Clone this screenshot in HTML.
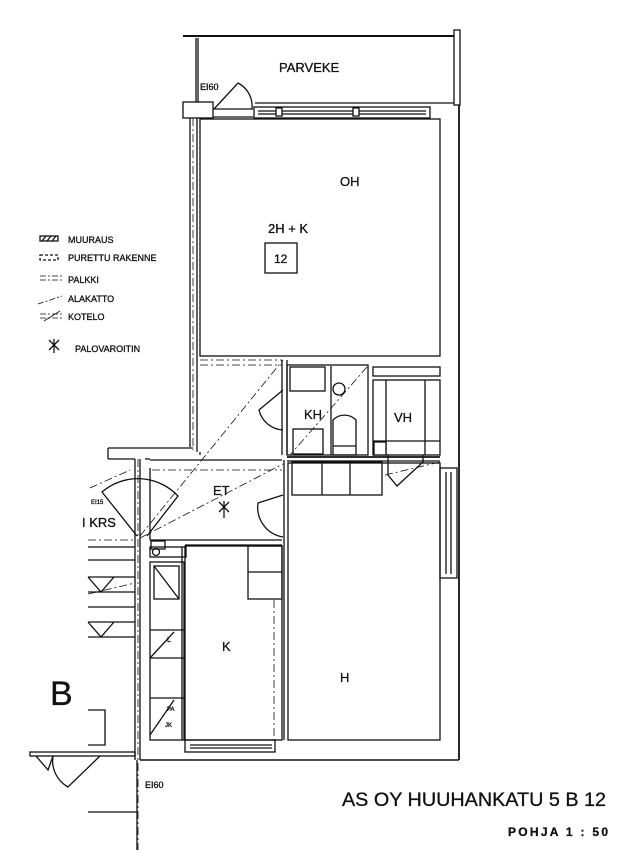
<!DOCTYPE html>
<html><head><style>
html,body{margin:0;padding:0;background:#fff;}
svg{display:block;}
text{font-family:"Liberation Sans",Arial,sans-serif;fill:#111;}
</style></head><body>
<svg width="642" height="858" viewBox="0 0 642 858" xmlns="http://www.w3.org/2000/svg">
<g stroke="#111" fill="none" stroke-width="1.3">
<line x1="183" y1="36" x2="455" y2="36" stroke-width="2"/>
<rect x="454" y="30" width="6" height="75" fill="#fff"/>
<line x1="196" y1="38" x2="196" y2="103"/>
<line x1="198" y1="38" x2="198" y2="103"/>
<line x1="255" y1="103" x2="454" y2="103"/>
<rect x="254" y="107" width="176" height="11"/>
<line x1="258" y1="111" x2="426" y2="111"/>
<line x1="258" y1="114" x2="426" y2="114"/>
<rect x="276" y="108" width="6" height="8" fill="#fff"/>
<rect x="353" y="108" width="6" height="8" fill="#fff"/>
<rect x="183" y="102" width="30" height="16" fill="#fff"/>
<line x1="213" y1="109" x2="253" y2="109"/>
<line x1="213" y1="117" x2="253" y2="117"/>
<path d="M214 109 L238 83 A26 26 0 0 1 252 109"/>
<line x1="190" y1="118" x2="190" y2="447"/>
<line x1="197" y1="118" x2="197" y2="452"/>
<line x1="193" y1="118" x2="193" y2="450" stroke-dasharray="8 3 2 3" stroke-width="0.8"/>
<rect x="200" y="119" width="240" height="237"/>
<rect x="265" y="243" width="32" height="30"/>
<line x1="459" y1="105" x2="459" y2="760" stroke-width="1.8"/>
<line x1="200" y1="360" x2="282" y2="360" stroke-dasharray="8 3 2 3" stroke-width="0.8"/>
<line x1="200" y1="365" x2="282" y2="365" stroke-dasharray="8 3 2 3" stroke-width="0.8"/>
<line x1="282" y1="360" x2="282" y2="455"/>
<line x1="287" y1="360" x2="287" y2="455"/>
<path d="M283 390 L259 410 A26 26 0 0 0 283 430"/>
<rect x="287" y="365" width="81" height="90"/>
<rect x="290" y="367" width="35" height="24"/>
<rect x="293" y="429" width="30" height="25"/>
<path d="M333 455 L333 420 A16 16 0 0 1 356 420 L356 455 Z"/>
<line x1="333" y1="446" x2="356" y2="446"/>
<line x1="331" y1="366" x2="331" y2="455"/>
<line x1="367" y1="367" x2="290" y2="455" stroke-dasharray="8 3 2 3" stroke-width="0.8"/>
<circle cx="339" cy="389" r="6"/>
<rect x="373" y="367" width="67" height="9"/>
<rect x="373" y="380" width="67" height="75"/>
<line x1="386" y1="380" x2="386" y2="455"/>
<line x1="425" y1="380" x2="425" y2="455"/>
<line x1="373" y1="441" x2="440" y2="441"/>
<rect x="374" y="442" width="12" height="13" fill="#fff"/>
<path d="M388 455 L388 475 L397 486 L423 462 L423 455" />
<line x1="287" y1="457" x2="440" y2="457" stroke-width="1.8"/>
<line x1="287" y1="461" x2="440" y2="461"/>
<rect x="292" y="462" width="90" height="33"/>
<line x1="322" y1="462" x2="322" y2="495"/>
<line x1="350" y1="462" x2="350" y2="495"/>
<rect x="288" y="463" width="152" height="277"/>
<line x1="284" y1="460" x2="284" y2="740"/>
<rect x="440" y="468" width="17" height="110"/>
<line x1="446" y1="472" x2="446" y2="574"/>
<line x1="451" y1="472" x2="451" y2="574"/>
<line x1="108" y1="448" x2="193" y2="448"/>
<line x1="108" y1="448" x2="108" y2="459"/>
<line x1="108" y1="459" x2="135" y2="459"/>
<line x1="145" y1="459" x2="150" y2="459"/>
<line x1="200" y1="452" x2="200" y2="455"/>
<line x1="150" y1="460" x2="282" y2="460"/>
<line x1="152" y1="470" x2="282" y2="470" stroke-dasharray="8 3 2 3" stroke-width="0.8"/>
<line x1="150" y1="468" x2="150" y2="540"/>
<line x1="135" y1="459" x2="135" y2="760"/>
<line x1="140" y1="459" x2="140" y2="760"/>
<line x1="138" y1="459" x2="138" y2="850" stroke-dasharray="8 3 2 3" stroke-width="0.8"/>
<path d="M137 536 L102 492 A55 55 0 0 1 178 496 L147 536"/>
<path d="M283 495 L258 503 A30 30 0 0 0 283 537"/>
<line x1="150" y1="540" x2="282" y2="540"/>
<line x1="140" y1="536" x2="283" y2="360" stroke-dasharray="8 3 2 3" stroke-width="0.8"/>
<line x1="140" y1="538" x2="283" y2="464" stroke-dasharray="8 3 2 3" stroke-width="0.8"/>
<line x1="385" y1="475" x2="440" y2="462" stroke-dasharray="8 3 2 3" stroke-width="0.8"/>
<line x1="90" y1="488" x2="130" y2="470" stroke-dasharray="8 3 2 3" stroke-width="0.8"/>
<rect x="151" y="541" width="14" height="8" fill="none"/>
<rect x="150" y="547" width="36" height="10"/>
<circle cx="156" cy="552" r="3.5"/>
<line x1="182" y1="547" x2="182" y2="740"/>
<line x1="185" y1="545" x2="282" y2="545"/>
<rect x="150" y="562" width="34" height="178"/>
<rect x="154" y="566" width="25" height="33"/>
<line x1="154" y1="566" x2="179" y2="599"/>
<line x1="150" y1="630" x2="184" y2="630"/>
<line x1="150" y1="658" x2="184" y2="658"/>
<line x1="150" y1="698" x2="184" y2="698"/>
<line x1="150" y1="658" x2="174" y2="632"/>
<line x1="150" y1="735" x2="174" y2="700"/>
<rect x="185" y="546" width="97" height="194"/>
<rect x="248" y="546" width="34" height="53"/>
<line x1="248" y1="572" x2="282" y2="572"/>
<line x1="274" y1="600" x2="274" y2="740" stroke-dasharray="8 3 2 3" stroke-width="0.8"/>
<rect x="185" y="740" width="90" height="12"/>
<line x1="190" y1="745" x2="272" y2="745"/>
<line x1="190" y1="748" x2="272" y2="748"/>
<line x1="140" y1="760" x2="459" y2="760" stroke-width="1.5"/>
<line x1="88" y1="540" x2="135" y2="540" stroke-dasharray="8 3 2 3" stroke-width="0.8"/>
<line x1="88" y1="547" x2="135" y2="547"/>
<line x1="88" y1="560" x2="135" y2="560"/>
<line x1="88" y1="577" x2="135" y2="577"/>
<line x1="88" y1="592" x2="135" y2="592"/>
<line x1="88" y1="607" x2="135" y2="607"/>
<line x1="88" y1="622" x2="135" y2="622"/>
<line x1="88" y1="637" x2="135" y2="637"/>
<path d="M88 577 L101 592 L114 577"/>
<path d="M88 622 L101 637 L114 622"/>
<line x1="88" y1="594" x2="135" y2="583" stroke-dasharray="8 3 2 3" stroke-width="0.8"/>
<path d="M88 710 L105 710 L105 745 L88 745"/>
<rect x="30" y="752" width="105" height="4"/>
<path d="M36 756 L48 770 L53 756"/>
<path d="M53 756 A30 30 0 0 0 68 787 L100 756"/>
<line x1="88" y1="812" x2="137" y2="812"/>
<line x1="137" y1="760" x2="137" y2="850"/>
<rect x="40" y="236" width="18" height="5"/>
<line x1="42" y1="241" x2="46" y2="236"/><line x1="47" y1="241" x2="51" y2="236"/><line x1="52" y1="241" x2="56" y2="236"/>
<rect x="40" y="255" width="18" height="5" stroke-dasharray="3 2"/>
<line x1="40" y1="276" x2="64" y2="276" stroke-dasharray="6 2 2 2" stroke-width="0.8"/>
<line x1="40" y1="280" x2="64" y2="280" stroke-dasharray="6 2 2 2" stroke-width="0.8"/>
<line x1="38" y1="304" x2="62" y2="296" stroke-dasharray="6 2 2 2" stroke-width="0.8"/>
<line x1="40" y1="314" x2="64" y2="314" stroke-dasharray="6 2 2 2" stroke-width="0.8"/>
<line x1="40" y1="318" x2="64" y2="318" stroke-dasharray="6 2 2 2" stroke-width="0.8"/>
<line x1="44" y1="321" x2="60" y2="311" stroke-width="0.8"/>
<g transform="translate(54,345)"><line x1="-5" y1="-5" x2="5" y2="5"/><line x1="-5" y1="5" x2="5" y2="-5"/><line x1="0" y1="-6" x2="0" y2="8"/></g>
<g transform="translate(224,507)"><line x1="-5" y1="-5" x2="5" y2="5"/><line x1="-5" y1="5" x2="5" y2="-5"/><line x1="0" y1="-6" x2="0" y2="11"/></g>
</g>
<g font-size="12" stroke="#111" stroke-width="0.3">
<text x="279" y="72" font-size="13">PARVEKE</text>
<text x="200" y="90" font-size="9">EI60</text>
<text x="340" y="186" font-size="13">OH</text>
<text x="268" y="233" font-size="13">2H + K</text>
<text x="274" y="263" font-size="12">12</text>
<text x="304" y="419" font-size="13">KH</text>
<text x="394" y="422" font-size="13">VH</text>
<text x="213" y="495" font-size="13">ET</text>
<text x="91" y="504" font-size="6">EI15</text>
<text x="82" y="527" font-size="13">I KRS</text>
<text x="222" y="651" font-size="13">K</text>
<text x="340" y="682" font-size="13">H</text>
<text x="50" y="705" font-size="34">B</text>
<text x="145" y="788" font-size="9">EI60</text>
<text x="342" y="806" font-size="19" textLength="264" lengthAdjust="spacingAndGlyphs">AS OY HUUHANKATU 5 B 12</text>
<text x="508" y="836" font-size="12" font-weight="bold" textLength="100" lengthAdjust="spacing">POHJA 1 : 50</text>
<text x="68" y="243" font-size="9">MUURAUS</text>
<text x="68" y="261" font-size="9">PURETTU RAKENNE</text>
<text x="68" y="283" font-size="9">PALKKI</text>
<text x="68" y="302" font-size="9">ALAKATTO</text>
<text x="68" y="320" font-size="9">KOTELO</text>
<text x="75" y="352" font-size="9">PALOVAROITIN</text>
<text x="167" y="642" font-size="7">L</text>
<text x="167" y="711" font-size="6">PA</text>
<text x="165" y="727" font-size="6">JK</text>
</g>
</svg>
</body></html>
